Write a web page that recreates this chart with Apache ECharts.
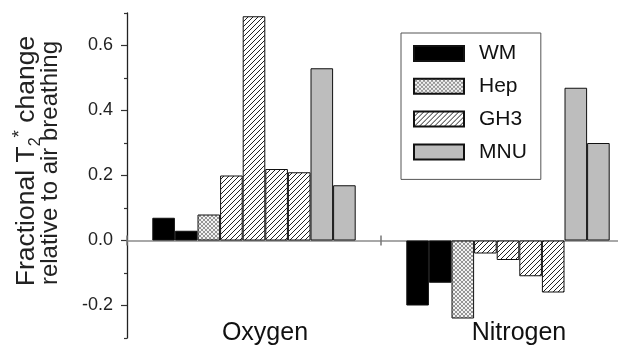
<!DOCTYPE html>
<html>
<head>
<meta charset="utf-8">
<style>
html,body{margin:0;padding:0;background:#fff;overflow:hidden;width:618px;height:347px;}
#chart{width:640px;height:347px;}
</style>
<script src="https://cdn.jsdelivr.net/npm/echarts@6/dist/echarts.min.js"></script>
</head>
<body>
<div id="chart"></div>
<script>
// ---- data ----
const categories = ['Oxygen', 'Nitrogen'];
const barGroups = ['WM', 'WM', 'Hep', 'GH3', 'GH3', 'GH3', 'GH3', 'MNU', 'MNU'];
const oxygenValues = [0.07, 0.03, 0.08, 0.20, 0.69, 0.22, 0.21, 0.53, 0.17];
const nitrogenValues = [-0.20, -0.13, -0.24, -0.04, -0.06, -0.11, -0.16, 0.47, 0.30];
const legendNames = ['WM', 'Hep', 'GH3', 'MNU'];
const yMajorTicks = [-0.2, 0.0, 0.2, 0.4, 0.6];
const yMinorTicks = [-0.3, -0.1, 0.1, 0.3, 0.5, 0.7];

// ---- fill patterns ----
function hatchCanvas() {
  const c = document.createElement('canvas');
  c.width = 5; c.height = 5;
  const g = c.getContext('2d');
  g.fillStyle = '#fff'; g.fillRect(0, 0, 5, 5);
  g.strokeStyle = '#222'; g.lineWidth = 1;
  g.beginPath();
  g.moveTo(-1, 6); g.lineTo(6, -1);
  g.moveTo(-1, 1); g.lineTo(1, -1);
  g.moveTo(4, 6); g.lineTo(6, 4);
  g.stroke();
  return c;
}
function crossCanvas() {
  const c = document.createElement('canvas');
  c.width = 4; c.height = 4;
  const g = c.getContext('2d');
  g.fillStyle = '#f2f2f2'; g.fillRect(0, 0, 4, 4);
  g.strokeStyle = '#8a8a8a'; g.lineWidth = 0.9;
  g.beginPath();
  g.moveTo(0, 0); g.lineTo(4, 4);
  g.moveTo(4, 0); g.lineTo(0, 4);
  g.stroke();
  return c;
}
const fills = {
  WM: '#000',
  Hep: { image: crossCanvas(), repeat: 'repeat' },
  GH3: { image: hatchCanvas(), repeat: 'repeat' },
  MNU: '#bdbdbd'
};

const FONT = 'Liberation Sans, Arial, Helvetica, sans-serif';
const chart = echarts.init(document.getElementById('chart'), null, { renderer: 'canvas' });

const series = barGroups.map((name, i) => ({
  type: 'bar',
  name: name,
  xAxisIndex: 0,
  yAxisIndex: 0,
  barWidth: 22.6,
  barGap: '0%',
  data: [oxygenValues[i], nitrogenValues[i]],
  itemStyle: { color: fills[name], borderColor: '#111', borderWidth: 1 },
  emphasis: { disabled: true },
  animation: false
}));

chart.setOption({
  animation: false,
  backgroundColor: '#fff',
  grid: { left: 127, top: 13, bottom: 9, right: 5, containLabel: false },
  legend: {
    data: legendNames,
    icon: 'rect',
    orient: 'vertical',
    left: 401, top: 33,
    padding: [10, 14, 17, 12],
    itemWidth: 50, itemHeight: 15, itemGap: 11.8,
    borderColor: '#555', borderWidth: 1,
    backgroundColor: '#fff',
    selectedMode: false,
    textStyle: { fontFamily: FONT, fontSize: 21, color: '#111', padding: [0, 0, 0, 10] }
  },
  xAxis: [
    {
      type: 'category', data: categories, position: 'bottom', offset: -17,
      axisLine: { show: false, onZero: false }, axisTick: { show: false },
      axisLabel: { fontFamily: FONT, fontSize: 25, color: '#111', margin: 0, padding: [0, 0, 0, 22] },
      splitLine: { show: false }
    },
    {
      type: 'category', data: categories, position: 'top',
      axisLine: { show: true, onZero: true, lineStyle: { color: '#8c8c8c', width: 1.5 } },
      axisTick: { show: true, length: 5, lineStyle: { color: '#777', width: 1.5 } },
      axisLabel: { show: false }, splitLine: { show: false }
    },
    {
      type: 'category', data: categories, position: 'bottom',
      axisLine: { show: false, onZero: true },
      axisTick: { show: true, length: 5, lineStyle: { color: '#777', width: 1.5 } },
      axisLabel: { show: false }, splitLine: { show: false }
    }
  ],
  yAxis: [
    {
      type: 'value', min: -0.3, max: 0.7, position: 'left',
      axisLine: { show: true, lineStyle: { color: '#222', width: 1.3 } },
      axisTick: { show: true, length: 6, customValues: yMajorTicks, lineStyle: { color: '#333', width: 1.2 } },
      axisLabel: {
        customValues: yMajorTicks, margin: 14,
        fontFamily: FONT, fontSize: 18, color: '#222',
        formatter: v => v.toFixed(1)
      },
      splitLine: { show: false }
    },
    {
      type: 'value', min: -0.3, max: 0.7, position: 'left',
      axisLine: { show: false },
      axisTick: { show: true, length: 3, customValues: yMinorTicks, lineStyle: { color: '#333', width: 1.2 } },
      axisLabel: { show: false, customValues: yMinorTicks },
      splitLine: { show: false }
    }
  ],
  graphic: [
    {
      type: 'text', x: 27, y: 161, rotation: Math.PI / 2,
      style: {
        text: 'Fractional T{sub|2}{sup|*} change',
        fontFamily: FONT, fontSize: 26.5, fill: '#222',
        align: 'center', verticalAlign: 'middle',
        rich: {
          sub: { fontFamily: FONT, fontSize: 16, fill: '#222', verticalAlign: 'bottom', lineHeight: 33 },
          sup: { fontFamily: FONT, fontSize: 19, fill: '#222', verticalAlign: 'top', lineHeight: 33 }
        }
      }
    },
    {
      type: 'text', x: 50, y: 163, rotation: Math.PI / 2,
      style: {
        text: 'relative to air breathing',
        fontFamily: FONT, fontSize: 24, fill: '#222',
        align: 'center', verticalAlign: 'middle'
      }
    }
  ],
  series: series
});
</script>
</body>
</html>
